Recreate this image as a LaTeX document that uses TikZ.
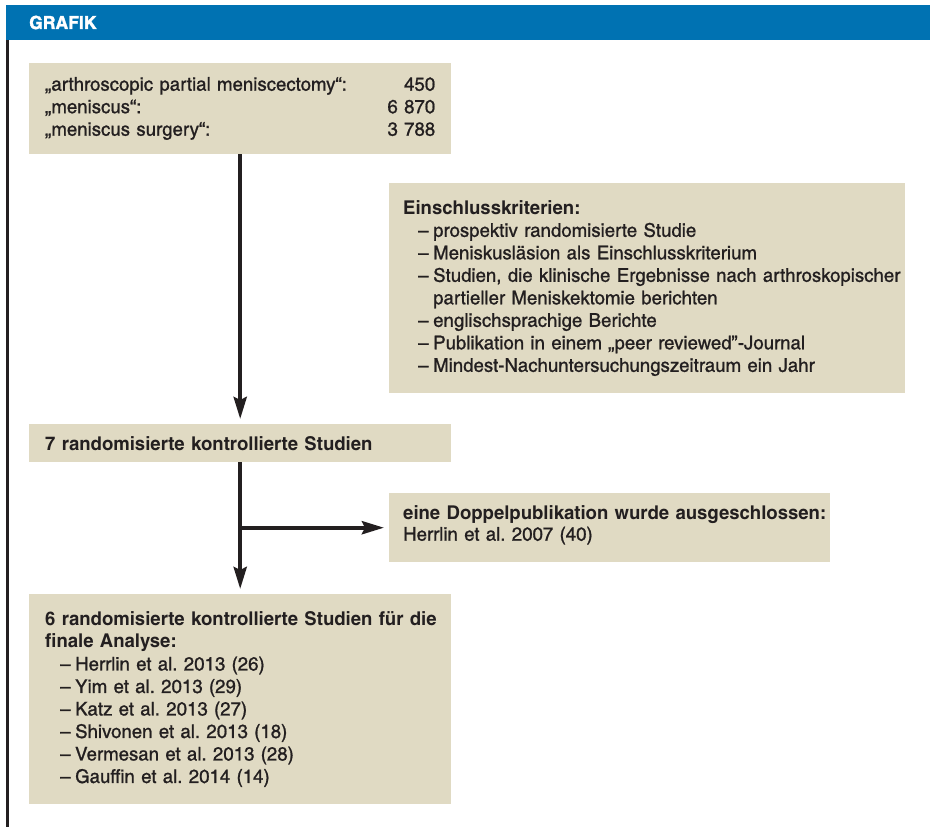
\documentclass[tikz,border=0pt]{standalone}
\usepackage{fontspec}
\setmainfont{texgyreheroscn}[Extension=.otf, UprightFont=*-regular, BoldFont=*-bold, ItalicFont=*-italic, BoldItalicFont=*-bolditalic, UprightFeatures={FakeStretch=1.195, FakeBold=0.9}, BoldFeatures={FakeStretch=1.19}]
\usepackage{tikz}
\usepackage{xcolor}
\definecolor{header}{RGB}{0,114,178}
\definecolor{boxfill}{RGB}{224,218,195}
\definecolor{ink}{RGB}{35,31,32}
\usetikzlibrary{arrows.meta}
\usetikzlibrary{positioning}
\usetikzlibrary{calc}
\frenchspacing
\newcommand{\entry}[1]{\hspace*{15pt}\makebox[15pt][l]{–}\mbox{#1}}
\newcommand{\wrapline}[1]{\hspace*{30pt}\mbox{#1}}
\newcommand{\boxhead}[1]{\mbox{\bfseries #1}}
\tikzset{box/.style={fill=boxfill, anchor=north west, inner xsep=14pt, inner ysep=0pt, align=left, text=ink, font=\fontsize{19}{22.5}\selectfont},
	flow/.style={draw=ink, line width=4pt, shorten >=5pt, -{Stealth[length=22pt,width=13pt,inset=3pt]}}}

\begin{document}
\begin{tikzpicture}[x=1pt, y=-1pt]
	\useasboundingbox (0,0) rectangle (930,827);
	
	% Header
	\fill[header] (6,5) rectangle (930,40);
	\node[anchor=west, text=white, font=\bfseries\fontsize{18}{22}\selectfont\addfontfeatures{FakeBold=1.5,FakeStretch=1.08}, inner sep=0pt] (title) at (29,22.5) {GRAFIK};
	\draw[ink, line width=2.5pt] (7.25,40) -- (7.25,827);
	
	% search terms
	\node[box, inner xsep=16pt, text width=390pt, minimum height=91pt] (search) at (29,63)
	{\begin{tabular*}{390pt}{@{}l@{\extracolsep{\fill}}r@{}}
			„arthroscopic partial meniscectomy“: & 450\\
			„meniscus“: & 6 870\\
			„meniscus surgery“: & 3 788
	\end{tabular*}};
	
	% criteria
	\node[box, text width=488pt, minimum height=210pt] (criteria) at (389,183)
	{\boxhead{Einschlusskriterien:}\\
		\entry{prospektiv randomisierte Studie}\\
		\entry{Meniskusläsion als Einschlusskriterium}\\
		\entry{Studien, die klinische Ergebnisse nach arthroskopischer}\\
		\wrapline{partieller Meniskektomie berichten}\\
		\entry{englischsprachige Berichte}\\
		\entry{Publikation in einem „peer reviewed”-Journal}\\
		\entry{Mindest-Nachuntersuchungszeitraum ein Jahr}};
	
	% 7 studies
	\node[box, inner xsep=16pt, text width=390pt, minimum height=38pt] (rct) at (29,424)
	{\boxhead{7 randomisierte kontrollierte Studien}};
	
	% excluded
	\node[box, text width=413pt, minimum height=69pt, font=\fontsize{19}{21}\selectfont] (dupl) at (389,493)
	{\boxhead{eine Doppelpublikation wurde ausgeschlossen:}\\
		Herrlin et al. 2007 (40)\rule[-9pt]{0pt}{9pt}};
	
	% final
	\node[box, inner xsep=16pt, text width=390pt, minimum height=210pt] (final) at (29,594)
	{\boxhead{6 randomisierte kontrollierte Studien für die}\\
		\boxhead{finale Analyse:}\\
		\entry{Herrlin et al. 2013 (26)}\\
		\entry{Yim et al. 2013 (29)}\\
		\entry{Katz et al. 2013 (27)}\\
		\entry{Shivonen et al. 2013 (18)}\\
		\entry{Vermesan et al. 2013 (28)}\\
		\entry{Gauffin et al. 2014 (14)}};
	
	% arrows
	\draw[flow] (search) -- (rct);
	\draw[flow] (rct) -- (final);
	\coordinate (branch) at (rct.south |- dupl.west);
	\draw[flow] (branch) -- (dupl.west);
	
\end{tikzpicture}
\end{document}
